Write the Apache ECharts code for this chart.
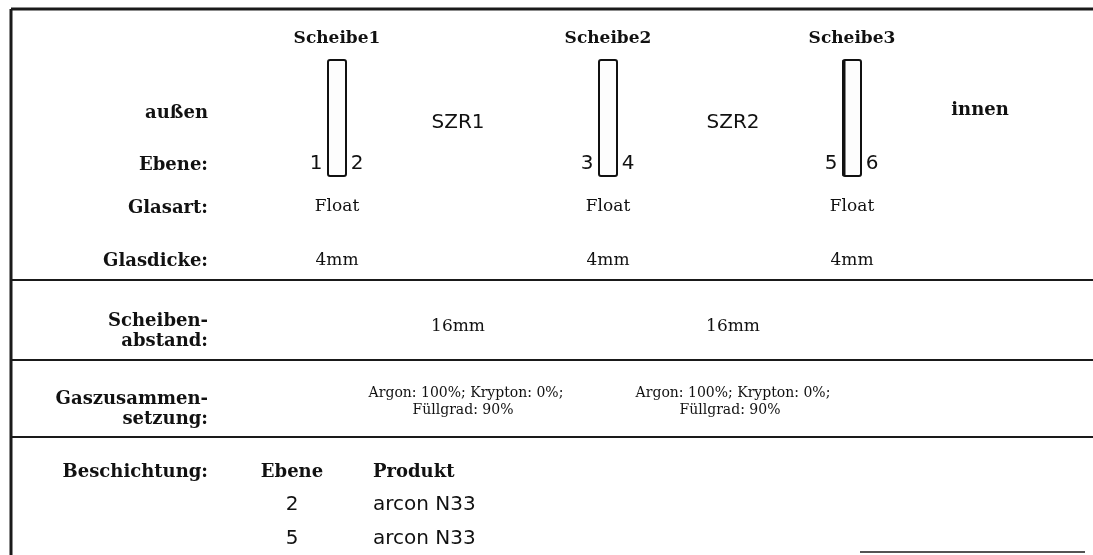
<!DOCTYPE html>
<html>
<head>
<meta charset="utf-8">
<title>Scheibenaufbau</title>
<script src="https://cdn.jsdelivr.net/npm/echarts@6/dist/echarts.min.js"></script>
<style>
  html, body { margin: 0; padding: 0; background: #fff; }
</style>
</head>
<body>
<div id="main" style="width:1093px;height:555px;"></div>
<script>
// --- Inhalt ---
var panes = ['Scheibe1', 'Scheibe2', 'Scheibe3'];
var surfaces = [[1, 2], [3, 4], [5, 6]];
var glassType = ['Float', 'Float', 'Float'];
var glassThickness = ['4mm', '4mm', '4mm'];
var gaps = ['SZR1', 'SZR2'];
var gapWidth = ['16mm', '16mm'];
var gasMix = ['Argon: 100%; Krypton: 0%;', 'Argon: 100%; Krypton: 0%;'];
var gasFill = ['Füllgrad: 90%', 'Füllgrad: 90%'];
var coatingSurface = ['2', '5'];
var coatingProduct = ['arcon N33', 'arcon N33'];
var rowLabels = ['außen', 'Ebene:', 'Glasart:', 'Glasdicke:', 'Scheiben-\nabstand:', 'Gaszusammen-\nsetzung:', 'Beschichtung:'];

// --- Layout (Pixel-Koordinaten auf der Achse 0..1093 / 0..555) ---
var paneX = [337, 608, 852];
var gapX = [458, 733];
var gasX = [466, 733];
var labelRight = 208;
var sepY = [280, 360, 437];

var chartDom = document.getElementById('main');
var myChart = echarts.init(chartDom, null, { renderer: 'canvas' });

var boldSerif = 'bold 18px "DejaVu Serif"';
var headSerif = 'bold 17px "DejaVu Serif"';
var serif = '17px "DejaVu Serif"';
var sans = '20px "DejaVu Sans"';
var small = '14px "DejaVu Serif"';

// text items: [x, y, text, font, align]
var texts = [];
texts.push([labelRight, 113, rowLabels[0], boldSerif, 'right']);
texts.push([labelRight, 165, rowLabels[1], boldSerif, 'right']);
texts.push([labelRight, 208, rowLabels[2], boldSerif, 'right']);
texts.push([labelRight, 261, rowLabels[3], boldSerif, 'right']);
texts.push([labelRight, 331, rowLabels[4], boldSerif, 'right']);
texts.push([labelRight, 409, rowLabels[5], boldSerif, 'right']);
texts.push([labelRight, 472, rowLabels[6], boldSerif, 'right']);
texts.push([980, 110, 'innen', boldSerif, 'center']);

panes.forEach(function (p, i) {
  texts.push([paneX[i], 39, p, headSerif, 'center']);
  texts.push([paneX[i] - 21, 164, String(surfaces[i][0]), sans, 'center']);
  texts.push([paneX[i] + 20, 164, String(surfaces[i][1]), sans, 'center']);
  texts.push([paneX[i], 207, glassType[i], serif, 'center']);
  texts.push([paneX[i], 261, glassThickness[i], serif, 'center']);
});
gaps.forEach(function (g, i) {
  texts.push([gapX[i], 123, g, sans, 'center']);
  texts.push([gapX[i], 327, gapWidth[i], serif, 'center']);
  texts.push([gasX[i], 393, gasMix[i], small, 'center']);
  texts.push([gasX[i] - 3, 410, gasFill[i], small, 'center']);
});
texts.push([292, 472, 'Ebene', boldSerif, 'center']);
texts.push([373, 472, 'Produkt', boldSerif, 'left']);
coatingSurface.forEach(function (s, i) {
  texts.push([292, 505 + i * 34, s, sans, 'center']);
  texts.push([373, 505 + i * 34, coatingProduct[i], sans, 'left']);
});

// shapes: [x1, y1, x2, y2, kind]
var shapes = [];
shapes.push([11, 9, 1093, 9, 'line3']);
shapes.push([11, 9, 11, 555, 'line3']);
sepY.forEach(function (y) { shapes.push([12, y, 1093, y, 'line2']); });
shapes.push([860, 552, 1085, 552, 'line1']);
paneX.forEach(function (x, i) {
  shapes.push([x - 9, 60, x + 9, 176, i === 2 ? 'paneThick' : 'pane']);
});

option = {
  animation: false,
  grid: { left: 0, right: 0, top: 0, bottom: 0 },
  xAxis: { type: 'value', min: 0, max: 1093, show: false },
  yAxis: { type: 'value', min: 0, max: 555, inverse: true, show: false },
  series: [
    {
      type: 'custom',
      data: shapes,
      renderItem: function (params, api) {
        var a = api.coord([api.value(0), api.value(1)]);
        var b = api.coord([api.value(2), api.value(3)]);
        var kind = shapes[params.dataIndex][4];
        if (kind === 'pane' || kind === 'paneThick') {
          var els = [{
            type: 'rect',
            shape: { x: a[0], y: a[1], width: b[0] - a[0], height: b[1] - a[1], r: 2 },
            style: { fill: '#fdfdfd', stroke: '#111', lineWidth: 2 }
          }];
          if (kind === 'paneThick') {
            els.push({
              type: 'line',
              shape: { x1: a[0] + 1, y1: a[1], x2: a[0] + 1, y2: b[1] },
              style: { stroke: '#111', lineWidth: 3 }
            });
          }
          return { type: 'group', children: els };
        }
        var w = kind === 'line3' ? 3 : (kind === 'line2' ? 2 : 1.5);
        return {
          type: 'line',
          shape: { x1: a[0], y1: a[1], x2: b[0], y2: b[1] },
          style: { stroke: '#1a1a1a', lineWidth: w }
        };
      }
    },
    {
      type: 'custom',
      data: texts,
      renderItem: function (params, api) {
        var t = texts[params.dataIndex];
        var p = api.coord([t[0], t[1]]);
        return {
          type: 'text',
          x: p[0],
          y: p[1],
          style: {
            text: t[2],
            font: t[3],
            fill: '#111',
            align: t[4],
            verticalAlign: 'middle',
            lineHeight: t[2].indexOf('\n') >= 0 ? 20 : undefined
          }
        };
      }
    }
  ]
};
myChart.setOption(option);
</script>
</body>
</html>
